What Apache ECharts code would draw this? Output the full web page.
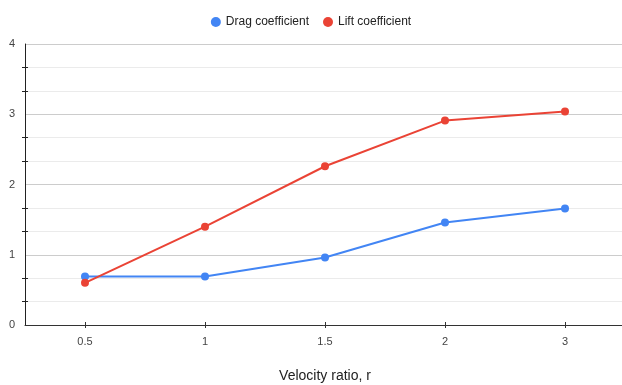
<!DOCTYPE html>
<html>
<head>
<meta charset="utf-8">
<script src="https://cdn.jsdelivr.net/npm/echarts@6/dist/echarts.min.js"></script>
<style>html,body{margin:0;padding:0;background:#fff}#c{width:622px;height:385px}</style>
</head>
<body>
<div id="c"></div>
<script>
const categories = ['0.5', '1', '1.5', '2', '3'];
const dragCoefficient = [0.69, 0.69, 0.96, 1.46, 1.66];
const liftCoefficient = [0.60, 1.40, 2.26, 2.91, 3.04];
const yTicks = [0, 1, 2, 3, 4];

const FONT = '"Liberation Sans", Arial, sans-serif';
const chart = echarts.init(document.getElementById('c'), null, {renderer: 'canvas'});

const yBase = {
  type: 'value', min: yTicks[0], max: yTicks[yTicks.length - 1], interval: 1,
  position: 'left'
};
const xBase = {
  type: 'category', data: categories, boundaryGap: true, position: 'bottom'
};

chart.setOption({
  animation: false,
  textStyle: {fontFamily: FONT},
  legend: {
    top: 11, left: 'center', icon: 'circle', itemWidth: 10, itemHeight: 10, itemGap: 14,
    textStyle: {fontFamily: FONT, fontSize: 12, color: '#222'},
    data: ['Drag coefficient', 'Lift coefficient']
  },
  grid: {left: 25, top: 44, width: 600, height: 281, containLabel: false, outerBoundsMode: 'none'},
  xAxis: [
    Object.assign({}, xBase, {
      name: 'Velocity ratio, r', nameLocation: 'middle', nameGap: 44,
      nameTextStyle: {fontFamily: FONT, fontSize: 14, color: '#222'},
      axisLine: {show: true, lineStyle: {color: '#333', width: 1}},
      axisTick: {show: true, alignWithLabel: true, length: 3, lineStyle: {color: '#333'}},
      axisLabel: {fontFamily: FONT, fontSize: 11, color: '#444', margin: 11},
      splitLine: {show: false}
    }),
    Object.assign({}, xBase, {
      axisLine: {show: false},
      axisTick: {show: true, alignWithLabel: true, inside: true, length: 3, lineStyle: {color: '#333'}},
      axisLabel: {show: false},
      splitLine: {show: false}
    })
  ],
  yAxis: [
    Object.assign({}, yBase, {
      axisLine: {show: true, lineStyle: {color: '#222', width: 1}},
      axisTick: {show: false},
      axisLabel: {fontFamily: FONT, fontSize: 11, color: '#444', margin: 10},
      splitLine: {show: true, lineStyle: {color: '#cccccc', width: 1}},
      minorTick: {show: true, splitNumber: 3, length: 3, lineStyle: {color: '#222', width: 1}},
      minorSplitLine: {show: true, lineStyle: {color: '#ebebeb', width: 1}}
    }),
    Object.assign({}, yBase, {
      axisLine: {show: false},
      axisTick: {show: false, inside: true},
      axisLabel: {show: false},
      splitLine: {show: false},
      minorTick: {show: true, splitNumber: 3, length: 3, lineStyle: {color: '#222', width: 1}}
    })
  ],
  series: [
    {
      name: 'Drag coefficient', type: 'line', data: dragCoefficient,
      xAxisIndex: 0, yAxisIndex: 0,
      symbol: 'circle', symbolSize: 8, color: '#4285F4',
      lineStyle: {width: 2, color: '#4285F4'}, itemStyle: {color: '#4285F4'}, z: 3
    },
    {
      name: 'Lift coefficient', type: 'line', data: liftCoefficient,
      xAxisIndex: 0, yAxisIndex: 0,
      symbol: 'circle', symbolSize: 8, color: '#EA4335',
      lineStyle: {width: 2, color: '#EA4335'}, itemStyle: {color: '#EA4335'}, z: 4
    }
  ]
});
</script>
</body>
</html>
